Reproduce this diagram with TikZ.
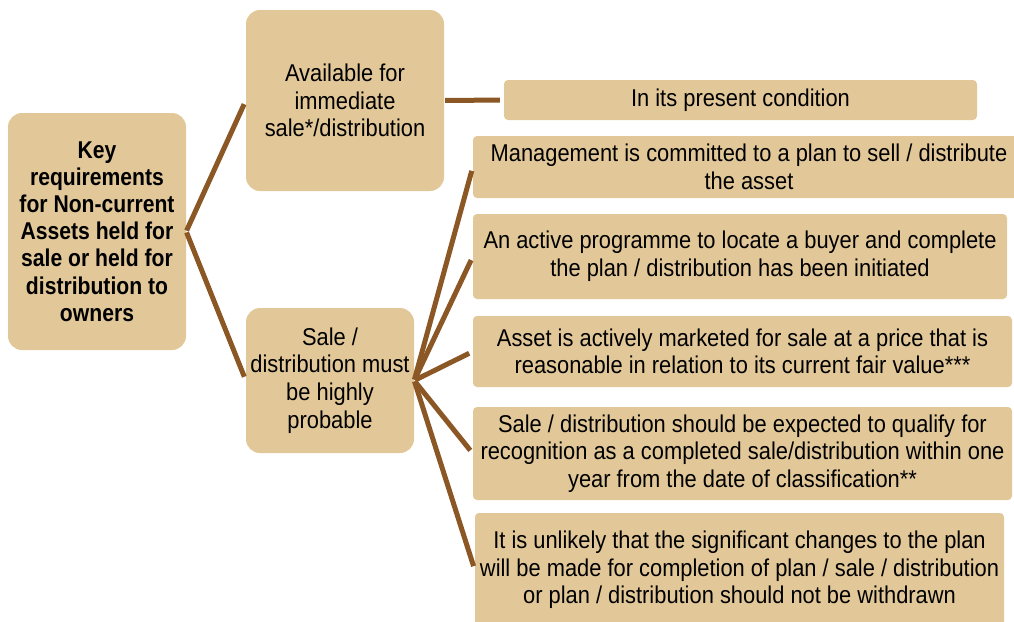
\documentclass[tikz,border=0pt]{standalone}
\usepackage{fontspec}
\setmainfont{Liberation Sans}[FakeStretch=0.90]
\newfontfamily\rootfont{Liberation Sans}[FakeStretch=0.87]
\definecolor{boxfill}{RGB}{226,200,152}
\definecolor{linkbrown}{RGB}{139,87,37}
\begin{document}
\begin{tikzpicture}[x=1pt,y=-1pt,
  box/.style={fill=boxfill, draw=none, align=center, inner sep=0pt, font=\fontsize{24.3}{27.6}\selectfont},
  bigbox/.style={box, rounded corners=14pt},
  smallbox/.style={box, rounded corners=4pt},
  link/.style={draw=linkbrown, line width=5pt, shorten >=4pt, shorten <=1pt}
]
\useasboundingbox (0,0) rectangle (1014,621);
\node[bigbox, minimum width=178pt, minimum height=237pt, font=\rootfont\bfseries\fontsize{24.3}{27.2}\selectfont] (root) at (97,231.5)
  {Key\\requirements\\for Non-current\\Assets held for\\sale or held for\\distribution to\\owners};
\node[bigbox, minimum width=198pt, minimum height=181pt] (avail) at (345,100.5)
  {Available for\\immediate\\sale*/distribution};
\node[bigbox, minimum width=168pt, minimum height=145pt] (prob) at (330,380.5)
  {Sale /\\distribution must\\be highly\\probable};
\node[smallbox, minimum width=473pt, minimum height=40pt] (pres) at (740.5,100)
  {In its present condition};
\node[smallbox, minimum width=552pt, minimum height=62pt] (mgmt) at (749,167)
  {Management is committed to a plan to sell / distribute\\the asset};
\node[smallbox, minimum width=534pt, minimum height=85pt] (prog) at (740,256.5)
  {An active programme to locate a buyer and complete\\the plan / distribution has been initiated};
\node[smallbox, minimum width=539pt, minimum height=71pt] (mkt) at (742.5,351.5)
  {Asset is actively marketed for sale at a price that is\\reasonable in relation to its current fair value***};
\node[smallbox, minimum width=539pt, minimum height=93pt] (year) at (742.5,453.5)
  {Sale / distribution should be expected to qualify for\\recognition as a completed sale/distribution within one\\year from the date of classification**};
\node[smallbox, minimum width=529pt, minimum height=114pt] (chg) at (739.5,570)
  {It is unlikely that the significant changes to the plan\\will be made for completion of plan / sale / distribution\\or plan / distribution should not be withdrawn};

\draw[link] (root.east) -- (avail.west);
\draw[link] (root.east) -- (prob.west);
\draw[link] (avail.east) -- (pres.west);
\draw[link] (prob.east) -- (mgmt.west);
\draw[link] (prob.east) -- (prog.west);
\draw[link] (prob.east) -- (mkt.west);
\draw[link] (prob.east) -- (year.west);
\draw[link] (prob.east) -- (chg.west);
\end{tikzpicture}
\end{document}
